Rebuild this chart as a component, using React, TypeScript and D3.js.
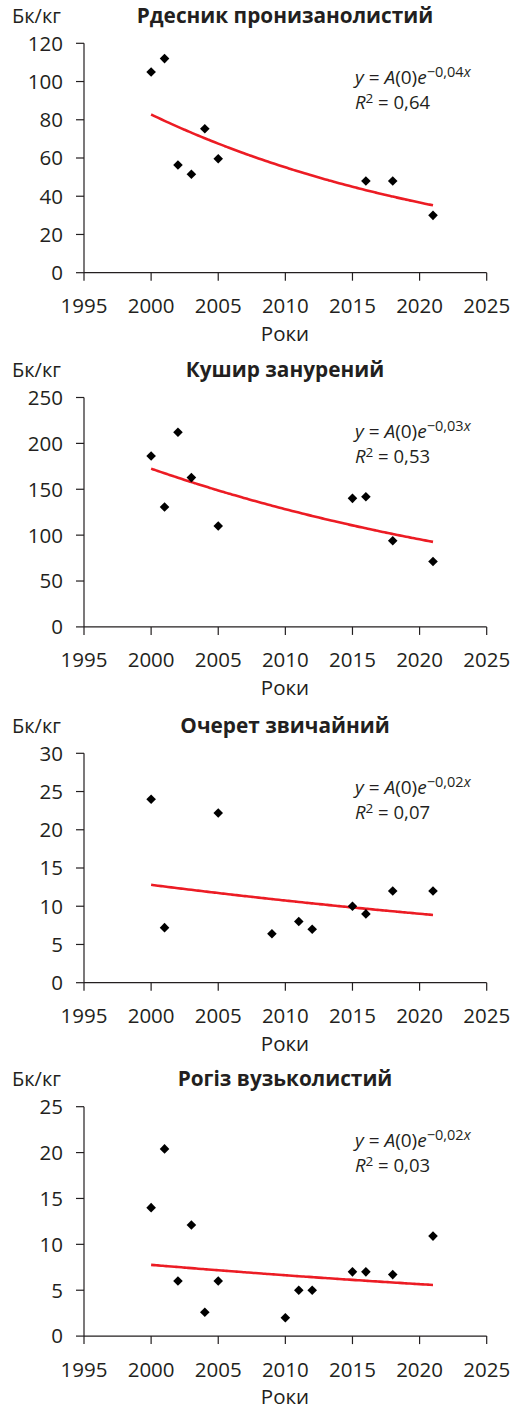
import * as d3 from "d3";

// Рдесник пронизанолистий
const years1 = [2000, 2001, 2002, 2003, 2004, 2005, 2016, 2018, 2021];
const values1 = [105, 112, 56.3, 51.5, 75.3, 59.6, 48, 48, 30];

// Кушир занурений
const years2 = [2000, 2001, 2002, 2003, 2005, 2015, 2016, 2018, 2021];
const values2 = [186.3, 130.6, 212.2, 162.7, 109.9, 140.1, 141.9, 93.9, 71.3];

// Очерет звичайний
const years3 = [2000, 2001, 2005, 2009, 2011, 2012, 2015, 2016, 2018, 2021];
const values3 = [24, 7.2, 22.2, 6.4, 8, 7, 10, 9, 12, 12];

// Рогіз вузьколистий
const years4 = [2000, 2001, 2002, 2003, 2004, 2005, 2010, 2011, 2012, 2015, 2016, 2018, 2021];
const values4 = [14, 20.4, 6, 12.1, 2.6, 6, 2, 5, 5, 7, 7, 6.7, 10.9];

const titles = [
  "Рдесник пронизанолистий",
  "Кушир занурений",
  "Очерет звичайний",
  "Рогіз вузьколистий",
];
const yTicks = [
  [0, 20, 40, 60, 80, 100, 120],
  [0, 50, 100, 150, 200, 250],
  [0, 5, 10, 15, 20, 25, 30],
  [0, 5, 10, 15, 20, 25],
];
const xTicks = [1995, 2000, 2005, 2010, 2015, 2020, 2025];
const exponents = ["−0,04", "−0,03", "−0,02", "−0,02"];
const rSquared = ["0,64", "0,53", "0,07", "0,03"];

const allYears = [years1, years2, years3, years4];
const allValues = [values1, values2, values3, values4];

const ink = "#231f20";
const font = "'Open Sans', sans-serif";

// exponential trend like Excel: least squares on ln(y)
function expFit(xs: number[], ys: number[]) {
  const lx = xs.map((x) => x - xs[0]);
  const ly = ys.map((y) => Math.log(y));
  const mx = d3.mean(lx)!;
  const my = d3.mean(ly)!;
  const sxy = d3.sum(lx, (x, i) => (x - mx) * (ly[i] - my));
  const sxx = d3.sum(lx, (x) => (x - mx) * (x - mx));
  const k = sxy / sxx;
  const a = my - k * mx;
  return (x: number) => Math.exp(a + k * (x - xs[0]));
}

function Panel({ i, offset }: { i: number; offset: number }) {
  const years = allYears[i];
  const values = allValues[i];
  const ticks = yTicks[i];

  const x = d3.scaleLinear().domain([1995, 2025]).range([84, 486.7]);
  const y = d3
    .scaleLinear()
    .domain([0, ticks[ticks.length - 1]])
    .range([272.7, 43.3]);

  const fit = expFit(years, values);
  const fx = d3.range(years[0], years[years.length - 1] + 0.01, 0.25);
  const line = d3
    .line<number>()
    .x((d) => x(d))
    .y((d) => y(fit(d)))
    .curve(d3.curveMonotoneX);

  const diamond = d3.symbol().type(d3.symbolSquare).size(46)()!;

  return (
    <g transform={`translate(0, ${offset})`} fill={ink} fontFamily={font}>
      <text x={12} y={23} fontSize={20}>
        Бк/кг
      </text>
      <text x={285} y={23} fontSize={20.8} fontWeight="bold" textAnchor="middle">
        {titles[i]}
      </text>

      {/* axes */}
      <line x1={x(1995)} x2={x(2025)} y1={y(0)} y2={y(0)} stroke={ink} strokeWidth={1.2} />
      <line x1={x(1995)} x2={x(1995)} y1={y(0)} y2={y.range()[1]} stroke={ink} strokeWidth={1.2} />

      {ticks.map((t) => (
        <g key={"y" + t}>
          <line x1={x(1995) - 8} x2={x(1995)} y1={y(t)} y2={y(t)} stroke={ink} strokeWidth={1.2} />
          <text x={63} y={y(t)} dy="0.36em" fontSize={20.5} textAnchor="end">
            {t}
          </text>
        </g>
      ))}
      {xTicks.map((t) => (
        <g key={"x" + t}>
          <line x1={x(t)} x2={x(t)} y1={y(0)} y2={y(0) + 8} stroke={ink} strokeWidth={1.2} />
          <text x={x(t)} y={313.3} fontSize={20.5} textAnchor="middle">
            {t}
          </text>
        </g>
      ))}
      <text x={285} y={340.5} fontSize={20.5} textAnchor="middle">
        Роки
      </text>

      <path d={line(fx) || ""} fill="none" stroke="#ec1c24" strokeWidth={2.6} />

      {years.map((yr, j) => (
        <path
          key={j}
          d={diamond}
          transform={`translate(${x(yr)}, ${y(values[j])}) rotate(45)`}
          fill="#000"
        />
      ))}

      <text x={355} y={84} fontSize={19}>
        <tspan fontStyle="italic">y</tspan>
        <tspan> = </tspan>
        <tspan fontStyle="italic">A</tspan>
        <tspan>(0)</tspan>
        <tspan fontStyle="italic">e</tspan>
        <tspan fontSize={14.5} dy={-7}>{exponents[i]}</tspan>
        <tspan fontSize={14.5} fontStyle="italic">x</tspan>
      </text>
      <text x={355} y={108.5} fontSize={18.5}>
        <tspan fontStyle="italic">R</tspan>
        <tspan fontSize={13.5} dy={-6}>2</tspan>
        <tspan dy={6}> = {rSquared[i]}</tspan>
      </text>
    </g>
  );
}

const offsets = [0, 354.2, 710, 1063.4];

export default function App() {
  return (
    <svg
      width={527}
      height={1410}
      style={{ position: "absolute", left: 0, top: 0, background: "#fff" }}
    >
      {offsets.map((o, i) => (
        <Panel key={i} i={i} offset={o} />
      ))}
    </svg>
  );
}
